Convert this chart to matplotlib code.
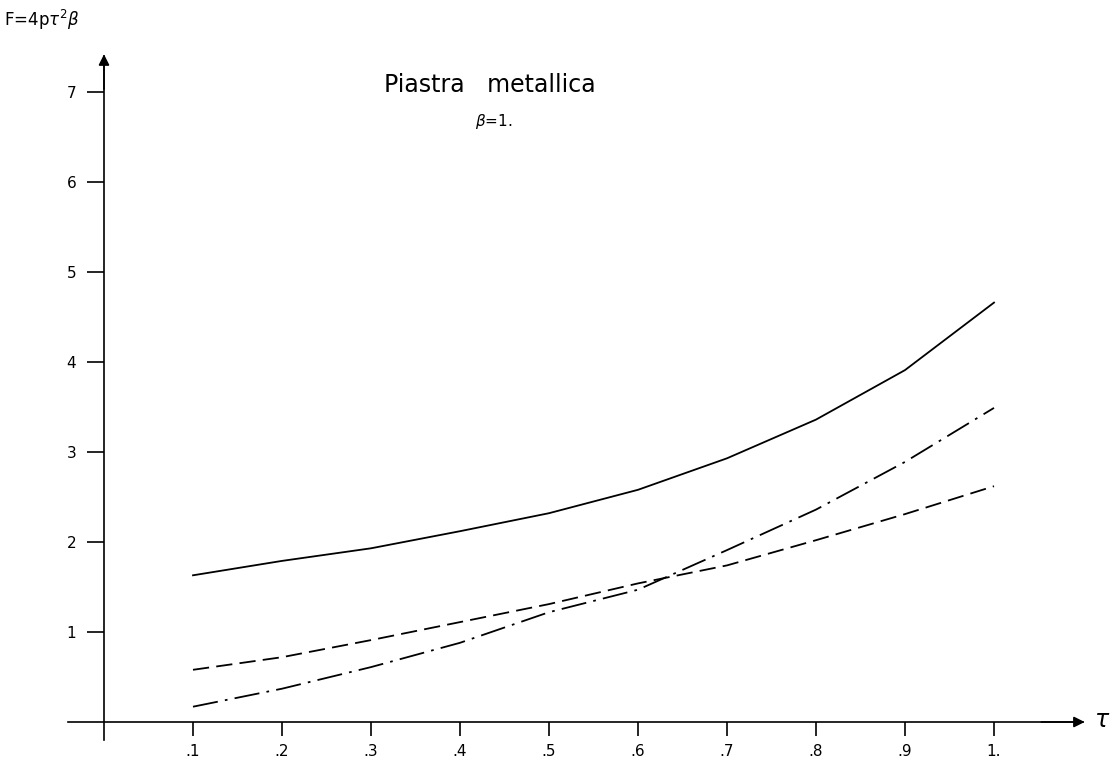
import numpy as np
import matplotlib
matplotlib.use('Agg')
import matplotlib.pyplot as plt

# valori (tau, F)
TAU = [0.1, 0.2, 0.3, 0.4, 0.5, 0.6, 0.7, 0.8, 0.9, 1.0]
F_CONT = [1.63, 1.79, 1.93, 2.12, 2.32, 2.58, 2.93, 3.36, 3.91, 4.66]
F_TRAT = [0.58, 0.72, 0.91, 1.11, 1.31, 1.54, 1.74, 2.02, 2.31, 2.62]
F_PUNT = [0.17, 0.37, 0.61, 0.88, 1.22, 1.47, 1.91, 2.36, 2.89, 3.49]

X_TICKS = [0.1, 0.2, 0.3, 0.4, 0.5, 0.6, 0.7, 0.8, 0.9, 1.0]
X_LABELS = ['.1', '.2', '.3', '.4', '.5', '.6', '.7', '.8', '.9', '1.']
Y_TICKS = [1, 2, 3, 4, 5, 6, 7]

fig = plt.figure(figsize=(11.17, 7.64), dpi=100)
ax = fig.add_axes([0, 0, 1, 1])
ax.set_xlim(-104 / 890, (1117 - 104) / 890)
ax.set_ylim(-42 / 90, 722 / 90)

ax.plot(TAU, F_CONT, color='k', lw=1.3)
ax.plot(TAU, F_TRAT, color='k', lw=1.3, dashes=(9, 4))
ax.plot(TAU, F_PUNT, color='k', lw=1.3, dashes=(14, 4, 1.5, 4))

# assi con freccia
for s in ['top', 'right']:
    ax.spines[s].set_visible(False)
ax.spines['left'].set_position(('data', 0))
ax.spines['bottom'].set_position(('data', 0))
ax.spines['left'].set_bounds(-0.2, 7.4)
ax.spines['bottom'].set_bounds(-0.04, 1.1)
ax.spines['left'].set_linewidth(1.2)
ax.spines['bottom'].set_linewidth(1.2)
ax.annotate('', xy=(0, 7.45), xytext=(0, 7.0),
            arrowprops=dict(arrowstyle='-|>', color='k', lw=1.2, mutation_scale=16))
ax.annotate('', xy=(1.105, 0), xytext=(1.05, 0),
            arrowprops=dict(arrowstyle='-|>', color='k', lw=1.2, mutation_scale=16))

ax.set_xticks(X_TICKS)
ax.set_xticklabels(X_LABELS)
ax.set_yticks(Y_TICKS)
ax.tick_params(axis='x', direction='out', length=10, width=1.2, pad=6, labelsize=11)
ax.tick_params(axis='y', direction='out', length=12, width=1.2, pad=8, labelsize=11)

ax.text(1.122, 0.02, r'$\tau$', fontsize=17, ha='center', va='center')
ax.text(-0.112, 7.8, r'F=4p$\tau^2\beta$', fontsize=12, ha='left', va='center')
ax.text(0.434, 7.08, 'Piastra   metallica', fontsize=17, ha='center', va='center')
ax.text(0.438, 6.67, r'$\beta$=1.', fontsize=11, ha='center', va='center')

fig.savefig('out.png', dpi=100)
